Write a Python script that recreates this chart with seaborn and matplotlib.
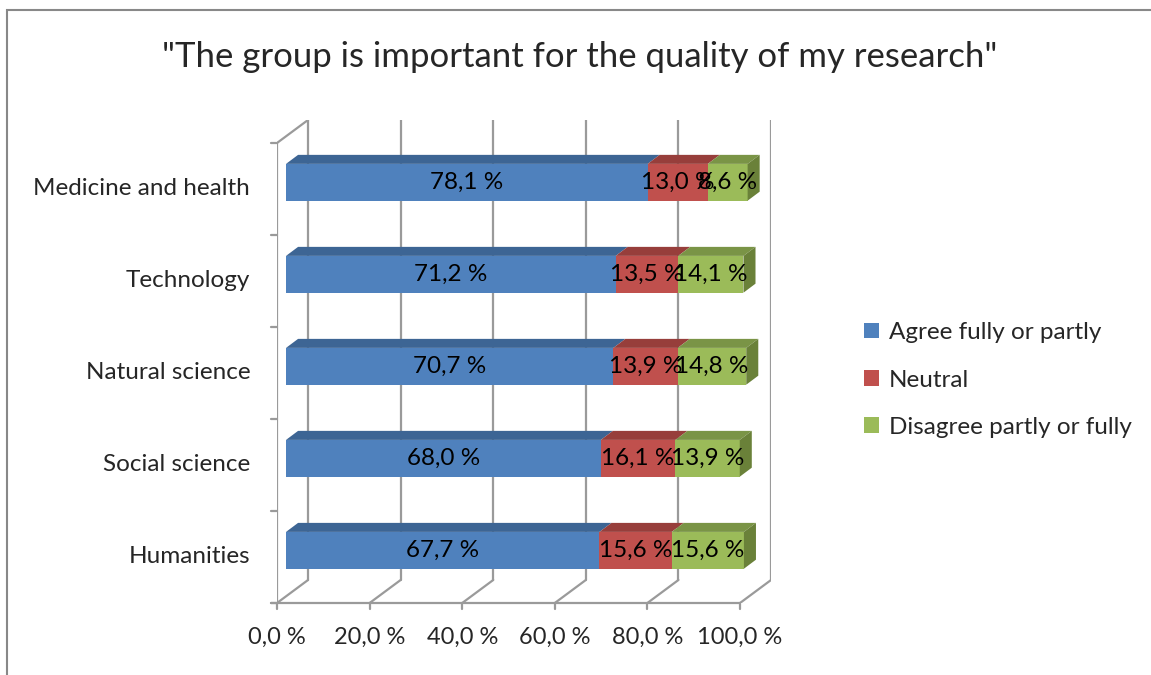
import numpy as np
import pandas as pd
import seaborn as sns
from matplotlib import pyplot as plt
from matplotlib.patches import Polygon, Rectangle, Patch

categories = ["Medicine and health", "Technology", "Natural science", "Social science", "Humanities"]
agree = [78.1, 71.2, 70.7, 68.0, 67.7]
neutral = [13.0, 13.5, 13.9, 16.1, 15.6]
disagree = [8.6, 14.1, 14.8, 13.9, 15.6]
series_names = ["Agree fully or partly", "Neutral", "Disagree partly or fully"]
x_ticks = [0, 20, 40, 60, 80, 100]
x_tick_labels = ["0,0 %", "20,0 %", "40,0 %", "60,0 %", "80,0 %", "100,0 %"]

front = ["#4F81BD", "#C0504D", "#9BBB59"]
top = ["#3D6594", "#973E3B", "#7A9446"]
side_green = "#6A8139"
grid_c = "#9A9A9A"

sns.set_theme(style="white")
plt.rcParams["font.family"] = ["Lato", "DejaVu Sans"]

df = pd.DataFrame({"cat": categories, "agree": agree, "neutral": neutral, "disagree": disagree})
df["c1"] = df["agree"]
df["c2"] = df["agree"] + df["neutral"]
df["c3"] = df["c2"] + df["disagree"]

fig = plt.figure(figsize=(11.51, 6.75), dpi=100)
ax = fig.add_axes([0.2407, 0.1067, 0.4292, 0.7156])

bar_h = 0.4
# stacked bars: draw cumulative totals from back to front
for col, c in zip(["c3", "c2", "c1"], front[::-1]):
    sns.barplot(data=df, x=col, y="cat", orient="h", color=c, width=bar_h,
                saturation=1, ax=ax, zorder=3, edgecolor="none")

# 3D depth of the box and bars (data units)
wx, wy = 6.7, 0.25          # wall depth
fx, fy = 1.94, 0.0725       # bar front plane offset from front of box
bx, by = 2.6, 0.098         # bar depth

# frame (front plane shifted relative to bars)
y_top_f = -0.5 + fy
y_bot_f = len(categories) - 0.5 + fy
lw = 1.6
for v in x_ticks:
    xf = v - fx
    ax.plot([xf, xf + wx], [y_bot_f, y_bot_f - wy], color=grid_c, lw=lw, zorder=1)
    ax.plot([xf + wx, xf + wx], [y_bot_f - wy, y_top_f - wy], color=grid_c, lw=lw, zorder=1)
    ax.plot([xf, xf], [y_bot_f, y_bot_f + 0.07], color=grid_c, lw=lw, zorder=1, clip_on=False)
ax.plot([-fx, -fx], [y_bot_f, y_top_f], color=grid_c, lw=lw, zorder=1)
ax.plot([-fx, -fx + wx], [y_top_f, y_top_f - wy], color=grid_c, lw=lw, zorder=1)
ax.plot([-fx - 1.3, 100 - fx], [y_bot_f, y_bot_f], color=grid_c, lw=lw, zorder=1, clip_on=False)
for k in range(len(categories) + 1):
    yk = -0.5 + fy + k
    ax.plot([-fx - 1.3, -fx], [yk, yk], color=grid_c, lw=lw, zorder=1, clip_on=False)

# top and side faces of the bars
for i in range(len(categories)):
    yt = i - bar_h / 2
    yb = i + bar_h / 2
    edges = [0, df["c1"][i], df["c2"][i], df["c3"][i]]
    for s in range(3):
        x0, x1 = edges[s], edges[s + 1]
        ax.add_patch(Polygon([(x0, yt), (x1, yt), (x1 + bx, yt - by), (x0 + bx, yt - by)],
                             closed=True, facecolor=top[s], edgecolor="none", zorder=4))
    xe = edges[3]
    ax.add_patch(Polygon([(xe, yt), (xe, yb), (xe + bx, yb - by), (xe + bx, yt - by)],
                         closed=True, facecolor=side_green, edgecolor="none", zorder=4))
    vals = [agree[i], neutral[i], disagree[i]]
    for s in range(3):
        xc = (edges[s] + edges[s + 1]) / 2
        ax.text(xc, i, f"{vals[s]:.1f} %".replace(".", ","), ha="center", va="center",
                fontsize=17.5, color="black", zorder=6)

ax.set_xlim(-fx, 100 - fx + wx)
ax.set_ylim(y_bot_f, y_top_f - wy)
ax.set_xticks([])
ax.set_yticks([])
ax.set_xlabel("")
ax.set_ylabel("")
for sp in ax.spines.values():
    sp.set_visible(False)

# axis tick labels on the front plane
for v, lab in zip(x_ticks, x_tick_labels):
    ax.text(v - fx, y_bot_f + 0.37, lab, ha="center", va="center", fontsize=17, clip_on=False)
for i, cat in enumerate(categories):
    ax.text(-fx - 5.8, i + fy, cat, ha="right", va="center", fontsize=17.5, clip_on=False)

fig.suptitle('"The group is important for the quality of my research"', x=0.504, y=0.915,
             fontsize=25, va="center")

handles = [Patch(facecolor=c, edgecolor="none") for c in front]
fig.legend(handles, series_names, loc="center left", bbox_to_anchor=(0.732, 0.437),
           frameon=False, fontsize=17.5, handlelength=0.6, handleheight=0.6,
           handletextpad=0.4, labelspacing=1.08)

fig.patches.append(Rectangle((7 / 1151, -0.05), 1.1, 1 - 10 / 675 + 0.05, transform=fig.transFigure,
                             fill=False, edgecolor="#888888", lw=1.5))

fig.savefig("out.png", dpi=100)
